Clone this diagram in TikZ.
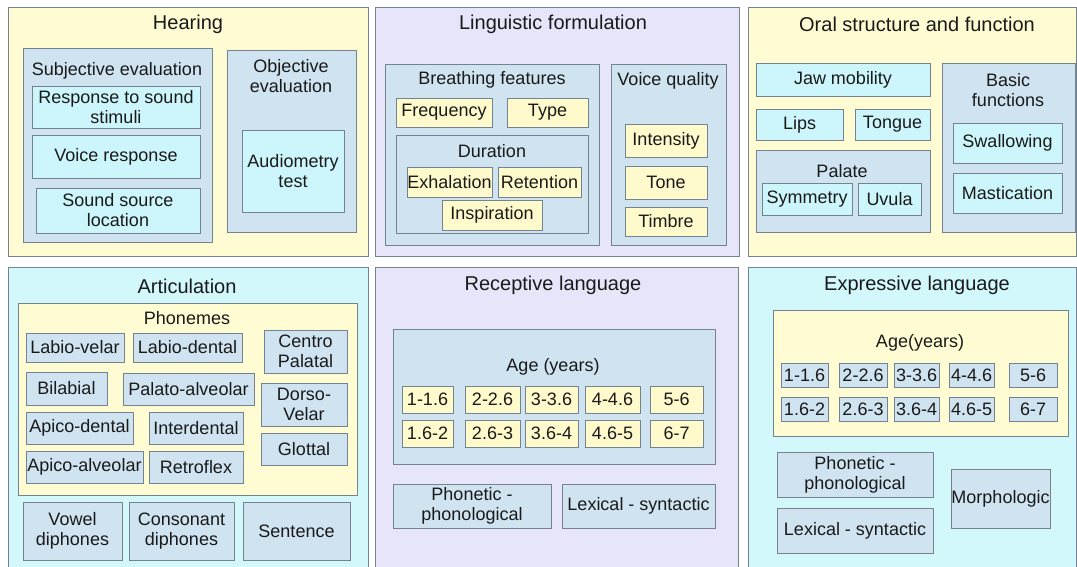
\documentclass[tikz,border=0pt]{standalone}
\usepackage{fontspec}
\setmainfont{Liberation Sans}
\definecolor{yellowfill}{HTML}{FFFBD3}
\definecolor{lavfill}{HTML}{E7E5F9}
\definecolor{cyanfill}{HTML}{D2F8FC}
\definecolor{bluefill}{HTML}{CFE3F1}
\definecolor{itemyellow}{HTML}{FFFACB}
\definecolor{itemcyan}{HTML}{CCF6FB}
\definecolor{edgegray}{HTML}{74838F}
\definecolor{inkgray}{HTML}{1A1A1A}
\tikzset{
  box/.style={draw=edgegray, line width=0.75pt, inner sep=0pt, align=center, text=inkgray, font=\fontsize{13.5}{15}\selectfont},
  yellowpane/.style={box, fill=yellowfill},
  lavpane/.style={box, fill=lavfill},
  cyanpane/.style={box, fill=cyanfill},
  bluepane/.style={box, fill=bluefill},
  yellowbox/.style={box, fill=itemyellow},
  cyanbox/.style={box, fill=itemcyan},
  bluebox/.style={box, fill=bluefill},
  title/.style={text=inkgray, font=\fontsize{15}{18}\selectfont},
  head/.style={text=inkgray, align=center, font=\fontsize{13.5}{15}\selectfont}
}
\newcommand{\cell}[7]{\node[#6, minimum width={(#4-#2)*0.75pt}, minimum height={(#5-#3)*0.75pt}] (#1) at ({(#2+#4)/2},{(#3+#5)/2}) {#7};}

\begin{document}
\begin{tikzpicture}[x=0.75pt, y=-0.75pt]
            \clip (0,0) rectangle (1077,567);
            \fill[white] (0,0) rectangle (1077,567);

            \cell{hearing}{8}{8}{368}{256}{yellowpane}{}
            \node[title] (hearingtitle) at (188,24) {Hearing};
            \cell{subj}{23}{49}{212}{242}{bluepane}{}
            \node[head] (subjtitle) at (117,71) {Subjective evaluation};
            \cell{stimuli}{32}{86}{200}{128}{cyanbox}{Response to sound\\stimuli}
            \cell{voiceresp}{32}{135}{200}{178}{cyanbox}{Voice response}
            \cell{soundloc}{36}{188}{200}{233}{cyanbox}{Sound source\\location}
            \cell{obj}{227}{51}{356}{232}{bluepane}{}
            \node[head] (objtitle) at (291,76) {Objective\\evaluation};
            \cell{audio}{242}{130}{344}{212}{cyanbox}{Audiometry\\test}

            \cell{ling}{375}{8}{739}{256}{lavpane}{}
            \node[title] (lingtitle) at (553,24) {Linguistic formulation};
            \cell{breath}{385}{65}{599}{245}{bluepane}{}
            \node[head] (breathtitle) at (492,80) {Breathing features};
            \cell{freq}{396}{98}{492}{127}{yellowbox}{Frequency}
            \cell{type}{507}{98}{588}{127}{yellowbox}{Type}
            \cell{duration}{396}{135}{588}{233}{bluepane}{}
            \node[head] (durationtitle) at (492,151) {Duration};
            \cell{exhal}{407}{167}{492}{197}{yellowbox}{Exhalation}
            \cell{reten}{498}{167}{581}{197}{yellowbox}{Retention}
            \cell{inspir}{442}{200}{542}{230}{yellowbox}{Inspiration}
            \cell{vquality}{611}{65}{726}{245}{bluepane}{}
            \node[head] (vqualitytitle) at (668,81) {Voice quality};
            \cell{intensity}{625}{124}{707}{157}{yellowbox}{Intensity}
            \cell{tone}{625}{166}{707}{199}{yellowbox}{Tone}
            \cell{timbre}{625}{207}{707}{236}{yellowbox}{Timbre}

            \cell{oral}{748}{8}{1076}{256}{yellowpane}{}
            \node[title] (oraltitle) at (917,24) {Oral structure and function};
            \cell{jaw}{756}{64}{930}{96}{cyanbox}{Jaw mobility}
            \cell{lips}{756}{109}{843}{140}{cyanbox}{Lips}
            \cell{tongue}{855}{109}{930}{140}{cyanbox}{Tongue}
            \cell{palate}{756}{150}{930}{232}{bluepane}{}
            \node[head] (palatetitle) at (842,171) {Palate};
            \cell{symmetry}{762}{183}{852}{215}{cyanbox}{Symmetry}
            \cell{uvula}{858}{183}{921}{215}{cyanbox}{Uvula}
            \cell{basic}{942}{64}{1075}{232}{bluepane}{}
            \node[head] (basictitle) at (1008,90) {Basic\\functions};
            \cell{swallow}{953}{123}{1062}{163}{cyanbox}{Swallowing}
            \cell{mastic}{953}{173}{1062}{213}{cyanbox}{Mastication}

            \cell{artic}{8}{267}{368}{580}{cyanpane}{}
            \node[title] (artictitle) at (187,286) {Articulation};
            \cell{phonemes}{18}{303}{357}{495}{yellowpane}{}
            \node[head] (phonemestitle) at (187,318) {Phonemes};
            \cell{labiovelar}{26}{333}{124}{362}{bluebox}{Labio-velar}
            \cell{labiodental}{133}{333}{242}{362}{bluebox}{Labio-dental}
            \cell{centropalatal}{264}{330}{347}{373}{bluebox}{Centro\\Palatal}
            \cell{bilabial}{26}{372}{107}{405}{bluebox}{Bilabial}
            \cell{palatoalveolar}{123}{373}{254}{405}{bluebox}{Palato-alveolar}
            \cell{dorsovelar}{261}{383}{347}{426}{bluebox}{Dorso-\\Velar}
            \cell{apicodental}{26}{412}{133}{444}{bluebox}{Apico-dental}
            \cell{interdental}{149}{412}{243}{444}{bluebox}{Interdental}
            \cell{glottal}{261}{433}{347}{465}{bluebox}{Glottal}
            \cell{apicoalveolar}{26}{451}{143}{483}{bluebox}{Apico-alveolar}
            \cell{retroflex}{149}{451}{243}{483}{bluebox}{Retroflex}
            \cell{vowel}{23}{502}{122}{560}{bluebox}{Vowel\\diphones}
            \cell{consonant}{129}{502}{234}{560}{bluebox}{Consonant\\diphones}
            \cell{sentence}{243}{502}{350}{560}{bluebox}{Sentence}

            \cell{recep}{375}{267}{738}{580}{lavpane}{}
            \node[title] (receptitle) at (553,285) {Receptive language};
            \cell{recage}{393}{329}{715}{464}{bluepane}{}
            \node[head] (recagetitle) at (553,367) {Age (years)};
            \cell{rA}{402}{386}{453}{413}{yellowbox}{1-1.6}
            \cell{rB}{465}{386}{520}{413}{yellowbox}{2-2.6}
            \cell{rC}{525}{386}{578}{413}{yellowbox}{3-3.6}
            \cell{rD}{585}{386}{640}{413}{yellowbox}{4-4.6}
            \cell{rE}{650}{386}{703}{413}{yellowbox}{5-6}
            \cell{rF}{402}{420}{453}{447}{yellowbox}{1.6-2}
            \cell{rG}{465}{420}{520}{447}{yellowbox}{2.6-3}
            \cell{rH}{525}{420}{578}{447}{yellowbox}{3.6-4}
            \cell{rI}{585}{420}{640}{447}{yellowbox}{4.6-5}
            \cell{rJ}{650}{420}{703}{447}{yellowbox}{6-7}
            \cell{recphon}{393}{484}{551}{528}{bluebox}{Phonetic -\\phonological}
            \cell{reclex}{562}{484}{715}{528}{bluebox}{Lexical - syntactic}

            \cell{expr}{748}{267}{1076}{580}{cyanpane}{}
            \node[title] (exprtitle) at (917,285) {Expressive language};
            \cell{exage}{773}{310}{1068}{436}{yellowpane}{}
            \node[head] (exagetitle) at (920,343) {Age(years)};
            \cell{eA}{781}{363}{828}{387}{bluebox}{1-1.6}
            \cell{eB}{839}{363}{887}{387}{bluebox}{2-2.6}
            \cell{eC}{894}{363}{939}{387}{bluebox}{3-3.6}
            \cell{eD}{949}{363}{994}{387}{bluebox}{4-4.6}
            \cell{eE}{1009}{363}{1057}{387}{bluebox}{5-6}
            \cell{eF}{781}{397}{828}{421}{bluebox}{1.6-2}
            \cell{eG}{839}{397}{887}{421}{bluebox}{2.6-3}
            \cell{eH}{894}{397}{939}{421}{bluebox}{3.6-4}
            \cell{eI}{949}{397}{994}{421}{bluebox}{4.6-5}
            \cell{eJ}{1009}{397}{1057}{421}{bluebox}{6-7}
            \cell{exphon}{777}{452}{933}{497}{bluebox}{Phonetic -\\phonological}
            \cell{exlex}{777}{508}{933}{553}{bluebox}{Lexical - syntactic}
            \cell{morph}{951}{469}{1050}{528}{bluebox}{Morphologic}
\end{tikzpicture}
\end{document}
